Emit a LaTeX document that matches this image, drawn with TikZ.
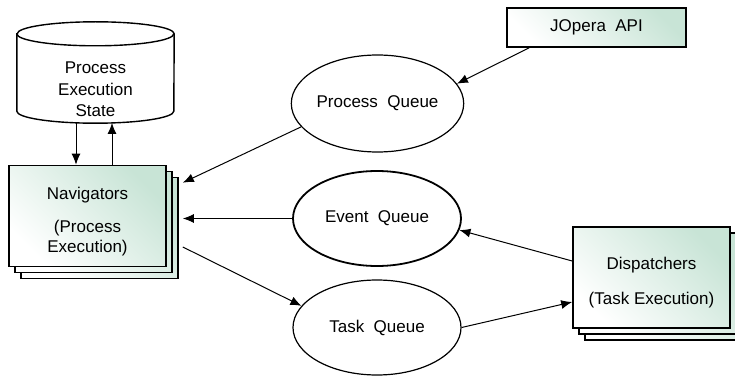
\documentclass[tikz,border=0pt]{standalone}
\usepackage{fontspec}
\setmainfont{Liberation Sans}
\usetikzlibrary{shapes.geometric, arrows.meta, calc}

\definecolor{boxgreen}{RGB}{200,228,214}

\tikzset{
    queue/.style = {ellipse, draw, line width=1.2pt, minimum width=168pt, minimum height=95pt, inner sep=0pt},
    stackbox/.style = {draw, line width=1.6pt, minimum width=157pt, minimum height=101pt, inner sep=0pt,
        shading=axis, top color=boxgreen, bottom color=white, shading angle=-45},
    link/.style = {-{Latex[length=11pt,width=9pt]}, line width=1pt}
}

\begin{document}
\begin{tikzpicture}[x=1pt, y=-1pt, font=\fontsize{17}{21.5}\selectfont]
    \useasboundingbox (0,0) rectangle (735,377);

    % State store (cylinder body + caps)
    \node[minimum width=157pt, minimum height=77pt, inner sep=0pt] (state) at (95.5,72.5) {};
    \draw[line width=1.4pt, fill=white] (state.north west) -- (state.south west)
        arc[start angle=180, end angle=360, x radius=78.5pt, y radius=12pt]
        -- (state.north east)
        arc[start angle=0, end angle=180, x radius=78.5pt, y radius=12pt] -- cycle;
    \draw[line width=1.4pt] (state.north west)
        arc[start angle=180, end angle=360, x radius=78.5pt, y radius=12pt];
    \node[align=center] (statetext) at ($(state.center)+(0,17)$) {Process\\Execution\\State};

    % Navigator stack
    \node[stackbox] (nav3) at (99.5,228) {};
    \node[stackbox] (nav2) at (93.5,222) {};
    \node[stackbox] (nav) at (87.5,216) {};
    \node[align=center, font=\fontsize{17}{20}\selectfont] (navtext) at ($(nav)+(0,6)$)
        {Navigators\\[13pt](Process\\Execution)};

    % Dispatcher stack
    \node[stackbox] (disp3) at (663.5,289.5) {};
    \node[stackbox] (disp2) at (657.5,283.5) {};
    \node[stackbox] (disp) at (651.5,277.5) {};
    \node[align=center] (disptext) at ($(disp)+(0,5)$) {Dispatchers\\[13.5pt](Task Execution)};

    % API entry
    \node[stackbox, minimum width=179pt, minimum height=39pt] (api) at (596.5,27.5) {JOpera\ \ API};

    % Queues
    \node[queue, minimum width=169pt, minimum height=97pt] (pq) at (377.5,103.5) {Process\ \ Queue};
    \node[queue, line width=1.8pt] (eq) at (377,218.5) {Event\ \ Queue};
    \node[queue] (tq) at (377,327.5) {Task\ \ Queue};

    % Navigators <-> state
    \draw[link] ($(state.south)+(-19.5,11.6)$) -- ($(nav.north)+(-11.5,0)$);
    \draw[link] ($(nav.north)+(24.5,0)$) -- ($(state.south)+(16.5,11.7)$);

    % Queue traffic
    \draw[link] ([xshift=23pt]api.south west) -- (pq.14);
    \draw[link] (pq.197) -- ([xshift=4pt,yshift=-6pt]nav3.north east);
    \draw[link, shorten >=4pt] (eq.west) -- (eq.west -| nav3.east);
    \draw[link] ([xshift=4pt,yshift=-19pt]nav3.east) -- (tq.164);
    \draw[link] ([yshift=16.5pt]disp.west) -- (eq.352);
    \draw[link] (tq.east) -- ([yshift=-24.5pt]disp.west);
\end{tikzpicture}
\end{document}
